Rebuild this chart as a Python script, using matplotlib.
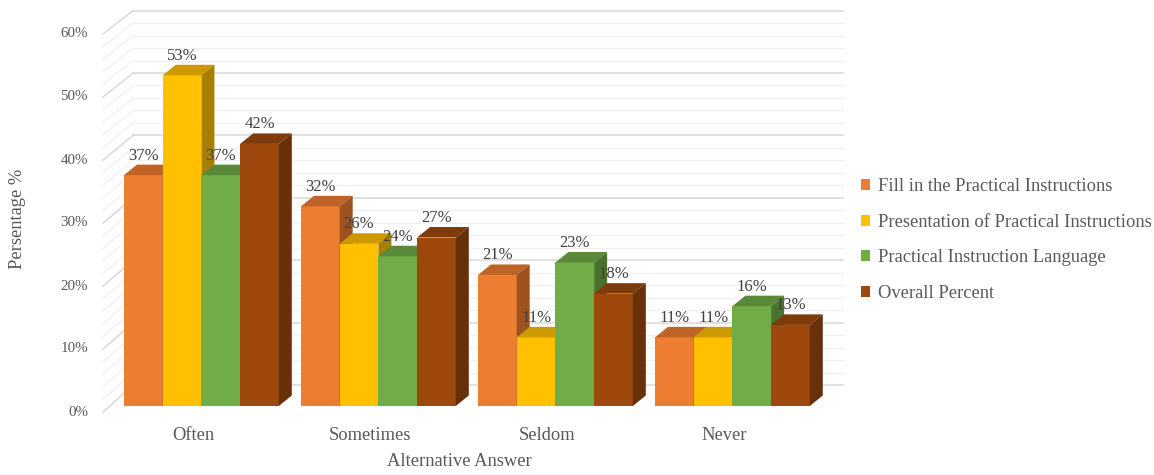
import matplotlib
matplotlib.use("Agg")
import matplotlib.pyplot as plt
import matplotlib.colors as mcolors
from matplotlib.patches import Polygon, Patch

# ---- data ----
categories = ["Often", "Sometimes", "Seldom", "Never"]
series_names = [
    "Fill in the Practical Instructions",
    "Presentation of Practical Instructions",
    "Practical Instruction Language",
    "Overall Percent",
]
fill_in = [37, 32, 21, 11]
presentation = [53, 26, 11, 11]
language = [37, 24, 23, 16]
overall = [42, 27, 18, 13]
major_ticks = [0, 10, 20, 30, 40, 50, 60]
minor_ticks = list(range(0, 61, 2))

colors = ["#ED7D31", "#FFC000", "#70AD47", "#9E480E"]

# ---- pseudo-3d geometry (pixel based, the axes fills the whole figure) ----
W_PX, H_PX = 1154, 475
PX_CAT = 177.0      # pixels per category step
PX_PCT = 6.24       # pixels per percent
X0_PX, Y0_PX = 201.4, 406.0   # centre of first group, bar base


def px2x(px):
    return (px - X0_PX) / PX_CAT


def px2y(py):
    return (Y0_PX - py) / PX_PCT


BAR_W = 38.7 / PX_CAT
BAR_DX = 13.0 / PX_CAT
BAR_DY = 10.5 / PX_PCT
WALL_DY = 21.0 / PX_PCT

TXT = "#595959"
plt.rcParams["font.family"] = ["Liberation Serif", "DejaVu Serif"]

fig = plt.figure(figsize=(W_PX / 100, H_PX / 100), dpi=100)
fig.patch.set_facecolor("white")
ax = fig.add_axes([0, 0, 1, 1])
ax.set_xlim(px2x(0), px2x(W_PX))
ax.set_ylim(px2y(H_PX), px2y(0))
ax.axis("off")

# back wall + left side wall grid
xw_front = px2x(103)
xw_back = px2x(133)
xw_right = px2x(843)
for v in minor_ticks:
    major = v in major_ticks
    gc = "#D9D9D9" if major else "#F0F0F0"
    lw = 1.1 if major else 0.9
    ax.plot([xw_back, xw_right], [v + WALL_DY, v + WALL_DY], color=gc, lw=lw, zorder=1)
    ax.plot([xw_front, xw_back], [v * 1.01 - 1.0, v + WALL_DY], color=gc, lw=lw, zorder=1)


def shade(c, f):
    r, g, b = mcolors.to_rgb(c)
    return (r * f, g * f, b * f)


series = [fill_in, presentation, language, overall]
for j in range(len(categories)):
    for i, vals in enumerate(series):
        c = colors[i]
        h = vals[j]
        x0 = j - 2 * BAR_W + i * BAR_W
        z = 3 + j + i * 0.1
        ax.bar(x0, h, width=BAR_W, align="edge", color=c, zorder=z)
        top = [(x0, h), (x0 + BAR_W, h), (x0 + BAR_W + BAR_DX, h + BAR_DY), (x0 + BAR_DX, h + BAR_DY)]
        side = [(x0 + BAR_W, 0), (x0 + BAR_W + BAR_DX, BAR_DY),
                (x0 + BAR_W + BAR_DX, h + BAR_DY), (x0 + BAR_W, h)]
        ax.add_patch(Polygon(top, closed=True, facecolor=shade(c, 0.80), edgecolor="none", zorder=z))
        ax.add_patch(Polygon(side, closed=True, facecolor=shade(c, 0.66), edgecolor="none", zorder=z))
        ax.text(x0 + BAR_W / 2, h + 19.5 / PX_PCT, f"{h}%", ha="center", va="center",
                fontsize=12, color="#404040", zorder=20)

# y tick labels
for v in major_ticks:
    ax.text(px2x(88), px2y(412 - v * 6.3), f"{v}%", ha="right", va="center",
            fontsize=10.8, color=TXT)

# category labels
for j, cat in enumerate(categories):
    ax.text(j - 8 / PX_CAT, px2y(436), cat, ha="center", va="center", fontsize=13.3, color=TXT)

ax.text(px2x(459), px2y(462), "Alternative Answer", ha="center", va="center",
        fontsize=13.3, color=TXT)
ax.text(px2x(18), px2y(219), "Persentage %", ha="center", va="center",
        rotation=90, fontsize=13.3, color=TXT)

handles = [Patch(facecolor=c, edgecolor="none") for c in colors]
ax.legend(handles, series_names, loc="center left", bbox_to_anchor=(861 / W_PX, (H_PX - 240) / H_PX),
          frameon=False, fontsize=13.3, handlelength=0.5, handleheight=0.55,
          handletextpad=0.4, labelspacing=1.0, borderaxespad=0, borderpad=0,
          labelcolor=TXT)

fig.savefig("out.png", dpi=100)
plt.close(fig)
